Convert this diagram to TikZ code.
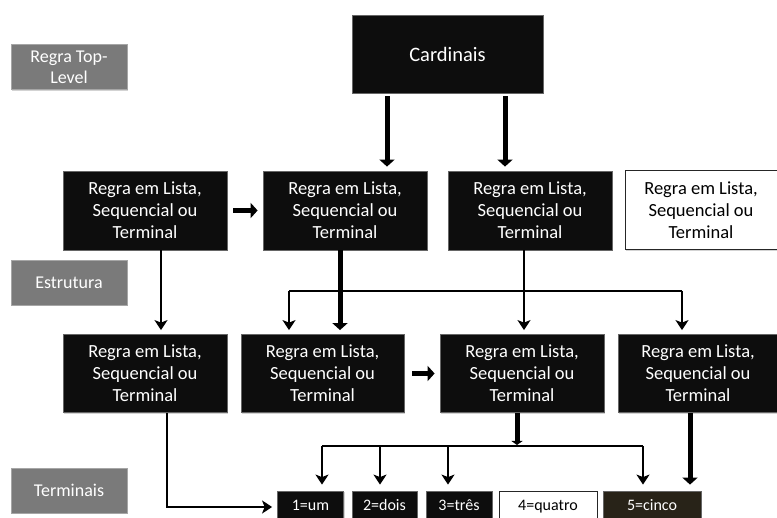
\documentclass[tikz,border=0pt]{standalone}
\usepackage{fontspec}
\setmainfont{Carlito}
\usetikzlibrary{arrows.meta,shadows}
\begin{document}
\begin{tikzpicture}[x=1pt,y=-1pt,
  box/.style={rectangle,inner sep=0pt,align=center,font=\fontsize{18.5}{22}\selectfont,
    drop shadow={opacity=0.35,shadow xshift=1.2pt,shadow yshift=-1.2pt}},
  blk/.style={box,fill=black!95,draw=black!60,line width=0.8pt,text=white,
    minimum width=164pt,minimum height=79pt},
  wht/.style={box,fill=white,draw=black!85,line width=1pt,text=black,
    minimum width=152pt,minimum height=79pt},
  gry/.style={box,fill=black!52,draw=black!35,line width=0.8pt,text=white,
    minimum width=116pt,minimum height=45pt,font=\fontsize{18}{21}\selectfont},
  trm/.style={box,fill=black!95,draw=black!60,line width=0.8pt,text=white,
    minimum height=32pt,text height=11pt,text depth=3pt,font=\fontsize{16}{19}\selectfont},
  thinarr/.style={line width=2.7pt,-{Stealth[length=10pt,width=13pt,inset=2.5pt]},shorten >=4pt},
  thinln/.style={line width=2.7pt},
  thickarr/.style={line width=5pt,-{Triangle[length=7pt,width=15pt]}},
]
\useasboundingbox (0,0) rectangle (777,518);
\clip (0,0) rectangle (777,518);
% side labels
\node[gry] (top) at (69,67) {Regra Top-\\Level};
\node[gry] (estr) at (69,282.5) {Estrutura};
\node[gry] (term) at (69,490.5) {Terminais};
% top
\node[blk,minimum width=191pt,minimum height=78pt,font=\fontsize{20.5}{24}\selectfont] (card) at (447.5,54) {Cardinais};
% row 1
\node[blk] (A) at (145,210.5) {Regra em Lista,\\Sequencial ou\\Terminal};
\node[blk] (B) at (345,210.5) {Regra em Lista,\\Sequencial ou\\Terminal};
\node[blk] (C) at (530,210.5) {Regra em Lista,\\Sequencial ou\\Terminal};
\node[wht] (D) at (701,210.5) {Regra em Lista,\\Sequencial ou\\Terminal};
% row 2
\node[blk,minimum height=78pt] (E) at (145,373.5) {Regra em Lista,\\Sequencial ou\\Terminal};
\node[blk,minimum width=163pt,minimum height=78pt] (F) at (322.5,373.5) {Regra em Lista,\\Sequencial ou\\Terminal};
\node[blk,minimum height=78pt] (G) at (522,373.5) {Regra em Lista,\\Sequencial ou\\Terminal};
\node[blk,minimum width=160pt,minimum height=78pt] (H) at (698,373.5) {Regra em Lista,\\Sequencial ou\\Terminal};
% terminals
\node[trm,minimum width=66pt] (t1) at (310.5,507) {1=um};
\node[trm,minimum width=65pt] (t2) at (384.5,507) {2=dois};
\node[trm,minimum width=66pt] (t3) at (459,507) {3=três};
\node[trm,fill=white,draw=black!85,text=black,minimum width=98pt] (t4) at (548,507) {4=quatro};
\node[trm,fill={rgb,255:red,40;green,35;blue,24},minimum width=98pt] (t5) at (652,507) {5=cinco};
% Cardinais -> row 1
\draw[thickarr,shorten <=3pt,shorten >=4pt] ([xshift=-60.5pt]card.south) -- ([xshift=-60.5pt]card.south |- B.north);
\draw[thickarr,shorten <=3pt,shorten >=4pt] ([xshift=57.5pt]card.south) -- ([xshift=57.5pt]card.south |- C.north);
% A -> B
\draw[thickarr,shorten <=6pt,shorten >=5pt] (A.east) -- (B.west);
% A -> E
\draw[thinarr] ([xshift=16pt]A.south) -- ([xshift=16pt]A.south |- E.north);
% B -> F
\draw[thickarr,shorten >=4pt] ([xshift=-5pt]B.south) -- ([xshift=-5pt]B.south |- F.north);
% C -> bus -> F, G, H
\coordinate (cb) at (524,291);
\coordinate (cbL) at (289,291);
\coordinate (cbR) at (682,291);
\draw[thinln] (cb |- C.south) -- (cb);
\draw[thinln] (cbL) -- (cbR);
\draw[thinarr] (cbL) -- (cbL |- F.north);
\draw[thinarr] (cb) -- (cb |- G.north);
\draw[thinarr] (cbR) -- (cbR |- H.north);
% F -> G
\draw[thickarr,shorten <=8pt,shorten >=5pt] (F.east) -- (G.west);
% G -> bus -> terminals
\coordinate (gb) at (517,446);
\coordinate (gbL) at (322,446);
\coordinate (gb2) at (380,446);
\coordinate (gb3) at (448,446);
\coordinate (gbR) at (643,446);
\draw[line width=5pt,-{Triangle[length=4pt,width=11pt]}] (gb |- G.south) -- ([yshift=1pt]gb);
\draw[thinln] (gbL) -- (gbR);
\draw[thinarr,shorten >=6pt] (gbL) -- (gbL |- t1.north);
\draw[thinarr,shorten >=6pt] (gb2) -- (gb2 |- t2.north);
\draw[thinarr,shorten >=6pt] (gb3) -- (gb3 |- t3.north);
\draw[thinarr,shorten >=6pt] (gbR) -- (gbR |- t5.north);
% H -> 5
\draw[thickarr,shorten >=6pt] ([xshift=-8pt]H.south) -- ([xshift=-8pt]H.south |- t5.north);
% E -> 1
\coordinate (ec) at (167,507);
\draw[thinarr,shorten >=5pt] (ec |- E.south) -- (ec) -- (t1.west);
\end{tikzpicture}
\end{document}
